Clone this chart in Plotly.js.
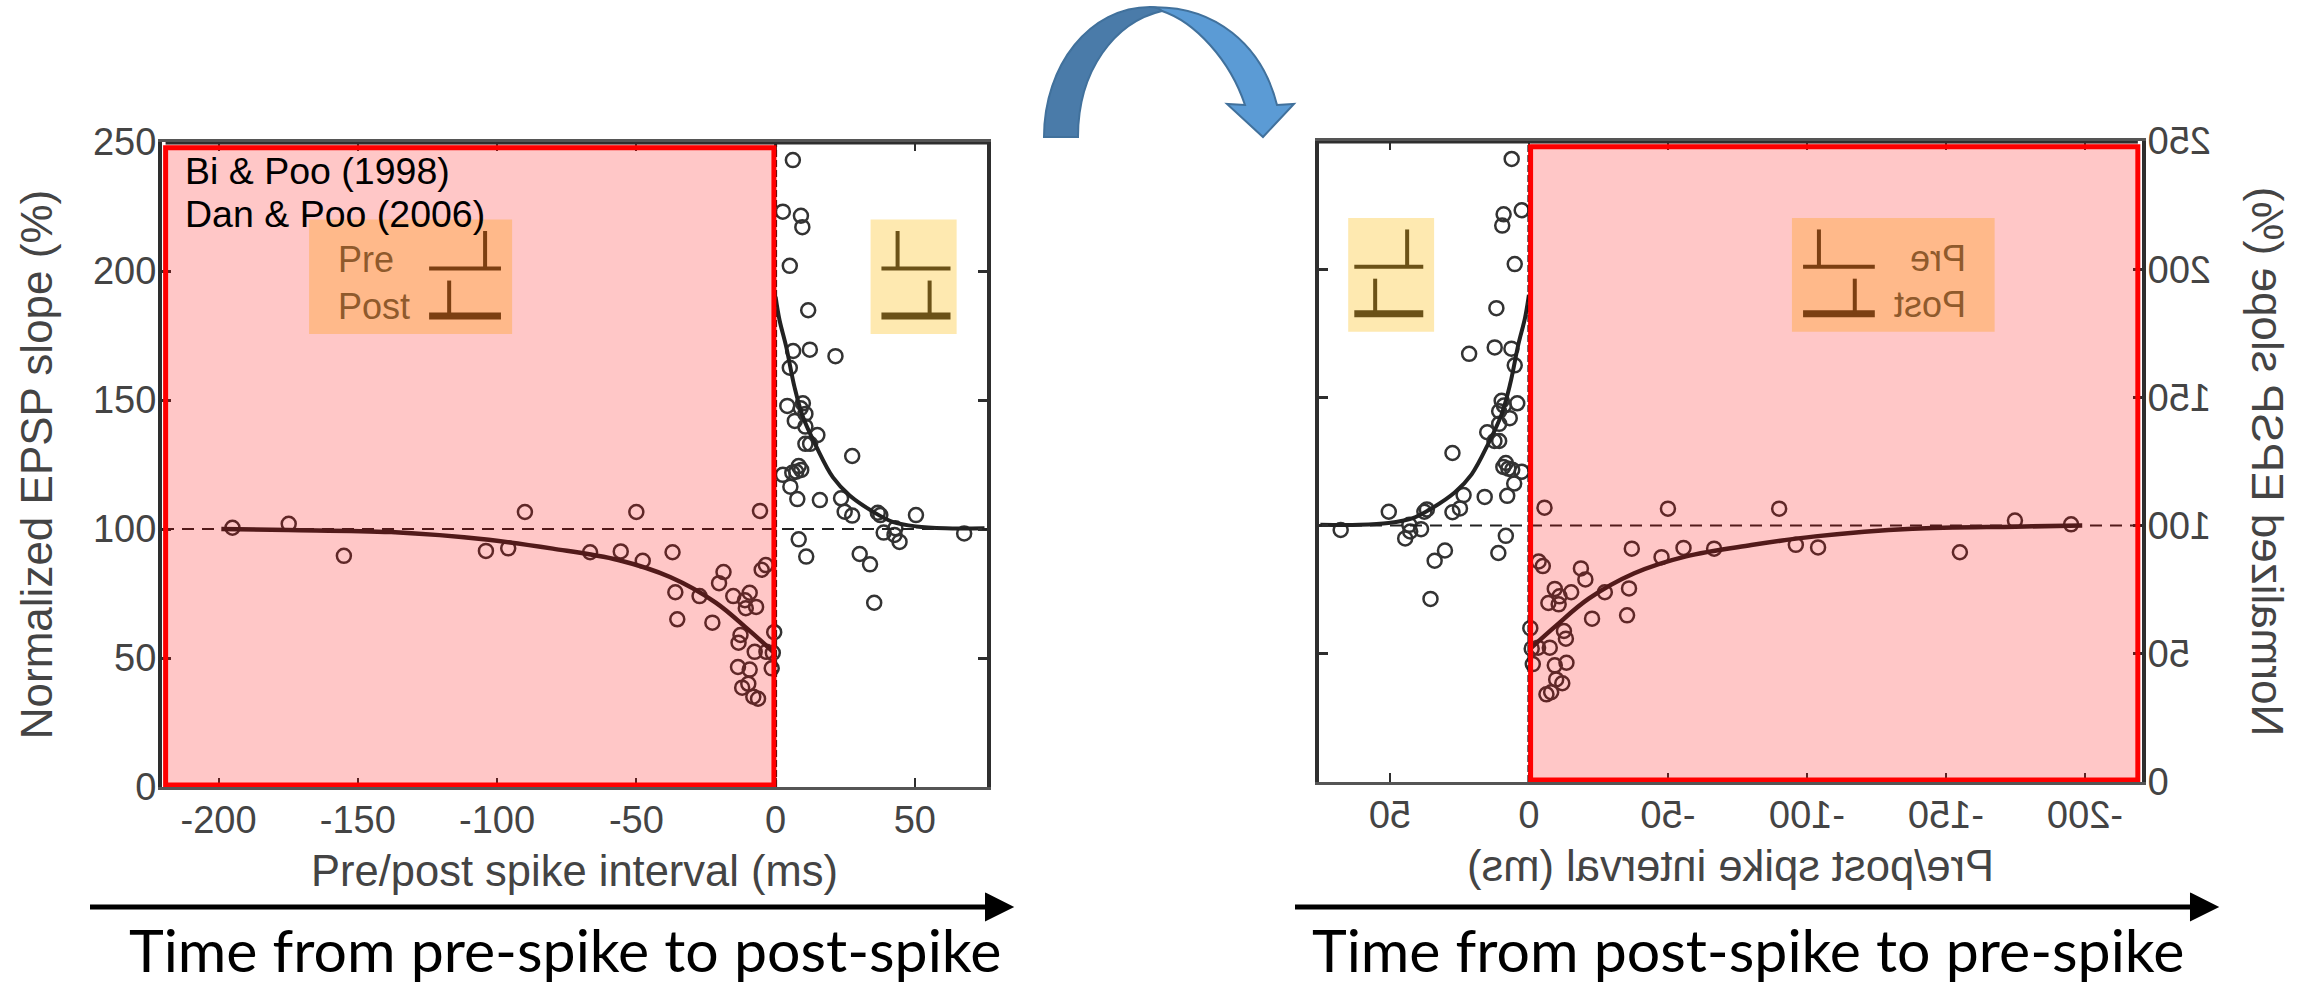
<!DOCTYPE html>
<html>
<head>
<meta charset="utf-8">
<script src="https://cdn.plot.ly/plotly-3.0.1.min.js"></script>
<style>
html,body{margin:0;padding:0;background:#fff;overflow:hidden;width:2313px;height:988px}
#main,#mirror{position:absolute;left:0;top:0;width:2313px;height:988px}
#mirror{transform:scaleX(-1);transform-origin:center center}
</style>
</head>
<body>
<div id="main"></div>
<div id="mirror"></div>
<script>
const ltdX = [-195,-174.8,-155,-104,-96,-90,-66.6,-55.6,-50,-47.7,-37,-36,-35.3,-27.3,-22.7,-20.3,-18.7,-15.2,-9.3,-11,-10.7,-7,-5.6,-5,-3.5,-12.6,-13.3,-7.5,-3.3,-0.5,-1,-1.4,-13.5,-9.3,-9.8,-12,-8,-6.3];
const ltdY = [100.5,102,89.6,91.5,92.5,106.6,91,91.3,106.6,87.7,91,75.5,65,74,63.7,79,83.3,74,75.3,72.4,69.3,69.8,107,84.2,86,58.9,55.9,52.4,52.4,60,52,46,46.5,45.5,40,38.5,35,34.2];
const ltpX = [6.2,2.6,9.1,9.6,5.1,11.7,21.5,12.3,6.3,5.1,4.2,9.8,9,10.7,6.9,10.7,15,10.7,12.4,27.5,8.3,9.2,7.4,6,2.6,5.3,7.8,15.9,23.5,24.8,27.5,36.7,37.6,50.4,43,38.8,42.7,44.5,67.7,8.3,11,30.2,33.9,35.4];
const ltpY = [243,223,221.4,217,202,184.8,167,169.5,169,162.5,147.7,148.7,146.8,144.6,141.9,139.7,136.4,133,133,128.3,124.4,122.9,122.2,121.8,121,116.4,111.6,111.2,111.9,106.7,105.2,106.3,105.4,105.4,100.3,98.6,97.7,95,98.3,96,89.3,90.3,86.3,71.4];
const ltdCurveX = [-199,-175,-138,-103,-80,-56.5,-37.9,-21.5,-9.8,-0.5];
const ltdCurveY = [100,99.6,98.8,95.8,92.4,88,81.4,71.5,61,52];
const ltpCurveX = [0,1.4,3.8,6.8,9.8,14.6,20.6,26.6,35,42,50.5,61,75];
const ltpCurveY = [190,181,170.7,155,143.5,132,120,113,106.7,102.8,101,100.3,100.3];
const xTickVals = [-200,-150,-100,-50,0,50];
const xTickText = ['-200','-150','-100','-50','0','50'];
const yTickVals = [0,50,100,150,200,250];
const yTickText = ['0','50','100','150','200','250'];
const yAxisTitle = 'Normalized EPSP slope (%)';
const xAxisTitle = 'Pre/post spike interval (ms)';
const citations = ['Bi & Poo (1998)','Dan & Poo (2006)'];
const captions = ['Time from pre-spike to post-spike','Time from post-spike to pre-spike'];

const W = 2313, H = 988;
const GREY = '#444444', DARK = '#2e2e2e', SANS = '"Liberation Sans", Arial, sans-serif';
const px = x => x / W, py = y => 1 - y / H;
const P = (x, y) => px(x).toFixed(5) + ',' + py(y).toFixed(5);

function line(x0, y0, x1, y1, color, width, dash) {
  return {type:'line', xref:'x', yref:'y', x0, y0, x1, y1, line:{color, width, dash:dash||'solid'}};
}
function rect(x0, y0, x1, y1, fill, lineColor, lineWidth) {
  return {type:'rect', xref:'x', yref:'y', x0, y0, x1, y1, fillcolor:fill, line:{color:lineColor||'rgba(0,0,0,0)', width:lineWidth||0}};
}
function glyphs(x0, x1, preStem, postStem, color) {
  return [
    line(x0,201,x1,201,color,4), line(preStem,201,preStem,215.5,color,4),
    line(x0,182.6,x1,182.6,color,7), line(postStem,182.6,postStem,196.3,color,4)
  ];
}
function figure(xPx, yPx, xRange) {
  const shapes = [
    line(xRange[0],100,xRange[1],100,'#222',2,'12px,8px'),
    rect(-219,0,-0.6,250,'rgba(255,0,0,0.22)'),
    line(0,0,0,250,'#111',3,'7px,3px'),
    rect(-167.5,175.6,-94.6,220,'#FFB98A'),
    rect(34.1,175.6,65,220,'#FEE9B0'),
    ...glyphs(-124.4,-98.6,-104.3,-117.2,'#7C3F12'),
    ...glyphs(38,62.8,43.8,55.3,'#6B5218'),
    line(-219,250,xRange[1],250,DARK,5),
    rect(-219,0.8,-0.6,247.8,'rgba(0,0,0,0)','#FF0000',5)
  ];
  const annotations = [
    {xref:'x',yref:'y',x:-157.8,y:204.3,xanchor:'left',yanchor:'middle',text:'Pre',showarrow:false,font:{family:SANS,size:36,color:'#8F5A2C'}},
    {xref:'x',yref:'y',x:-157.8,y:186.3,xanchor:'left',yanchor:'middle',text:'Post',showarrow:false,font:{family:SANS,size:36,color:'#8F5A2C'}}
  ];
  const data = [
    {type:'scatter',mode:'markers',x:ltdX,y:ltdY,cliponaxis:false,marker:{symbol:'circle-open',size:14,color:'#333',line:{width:2.5,color:'#333'}},hoverinfo:'skip'},
    {type:'scatter',mode:'markers',x:ltpX,y:ltpY,cliponaxis:false,marker:{symbol:'circle-open',size:14,color:'#333',line:{width:2.5,color:'#333'}},hoverinfo:'skip'},
    {type:'scatter',mode:'lines',x:ltdCurveX,y:ltdCurveY,line:{color:'#222',width:4.5,shape:'spline'},hoverinfo:'skip'},
    {type:'scatter',mode:'lines',x:ltpCurveX,y:ltpCurveY,line:{color:'#222',width:4,shape:'spline'},hoverinfo:'skip'}
  ];
  const layout = {
    width:W, height:H, showlegend:false, margin:{l:0,r:0,t:0,b:0},
    paper_bgcolor:'rgba(0,0,0,0)', plot_bgcolor:'rgba(0,0,0,0)',
    xaxis:{domain:[px(xPx[0]),px(xPx[1])],range:xRange,tickmode:'array',tickvals:xTickVals,ticktext:xTickText,
      ticks:'inside',ticklen:9,tickwidth:2,tickcolor:DARK,mirror:'allticks',showline:true,linecolor:'#555',linewidth:3,
      showgrid:false,zeroline:false,automargin:false,ticklabelstandoff:-3,tickfont:{family:SANS,size:38,color:GREY},
      title:{text:xAxisTitle,standoff:16,font:{family:SANS,size:43.5,color:GREY}}},
    yaxis:{domain:[py(yPx[1]),py(yPx[0])],range:[0,250],tickmode:'array',tickvals:yTickVals,ticktext:yTickText,
      ticks:'inside',ticklen:9,tickwidth:3,tickcolor:DARK,mirror:'allticks',showline:true,linecolor:DARK,linewidth:4,
      showgrid:false,zeroline:false,automargin:false,ticklabelstandoff:-6,tickfont:{family:SANS,size:38,color:GREY},
      title:{text:yAxisTitle,standoff:28,font:{family:SANS,size:44,color:GREY}}},
    shapes, annotations
  };
  return {data, layout};
}

const left = figure([162,987],[142,787],[-220.3,75.9]);
const right = figure([171,994],[141,782],[-220.5,75.5]);

const paperLine = (x0,y0,x1,y1,color,width) => ({type:'line',xref:'paper',yref:'paper',x0:px(x0),y0:py(y0),x1:px(x1),y1:py(y1),line:{color,width}});
const paperPath = (path,fill,stroke) => ({type:'path',xref:'paper',yref:'paper',path,fillcolor:fill,line:{color:stroke,width:2}});
const arrowHead = (x0,x1,y,h) => paperPath('M'+P(x0,y-h)+' L'+P(x1,y)+' L'+P(x0,y+h)+' Z','#000','#000');

left.layout.shapes.push(
  paperLine(90,907,990,907,'#000',5), arrowHead(986,1012,907,13),
  paperLine(1295,907,2195,907,'#000',5), arrowHead(2191,2217,907,13),
  paperPath('M'+P(1150,7.3)+' C'+P(1215,5)+' '+P(1262,45)+' '+P(1277,105)+' L'+P(1294,104)+' L'+P(1263,137)+' L'+P(1227,104)+' L'+P(1245,105)+' C'+P(1230,60)+' '+P(1195,22)+' '+P(1162,11)+' Z','#5B9BD5','#41719C'),
  paperPath('M'+P(1044,137)+' C'+P(1044,65)+' '+P(1090,7)+' '+P(1150,7)+' C'+P(1155,7)+' '+P(1160,9)+' '+P(1162,11)+' C'+P(1115,22)+' '+P(1078,70)+' '+P(1078,137)+' Z','#4A7BA9','#41719C')
);
const paperText = (x,y,text,size,family,anchor,vanchor) => ({xref:'paper',yref:'paper',x:px(x),y:py(y),text,showarrow:false,xanchor:anchor,yanchor:vanchor||'middle',font:{family,size,color:'#000'}});
left.layout.annotations.push(
  paperText(183,171,citations[0],37.5,SANS,'left'),
  paperText(183,214,citations[1],37.5,SANS,'left'),
  paperText(565,987,captions[0],59,'Lato, sans-serif','center','bottom'),
  paperText(1748,987,captions[1],59,'Lato, sans-serif','center','bottom')
);
const cfg = {displayModeBar:false, staticPlot:true, responsive:false};
Plotly.newPlot('main', left.data, left.layout, cfg);
Plotly.newPlot('mirror', right.data, right.layout, cfg);
</script>
</body>
</html>
